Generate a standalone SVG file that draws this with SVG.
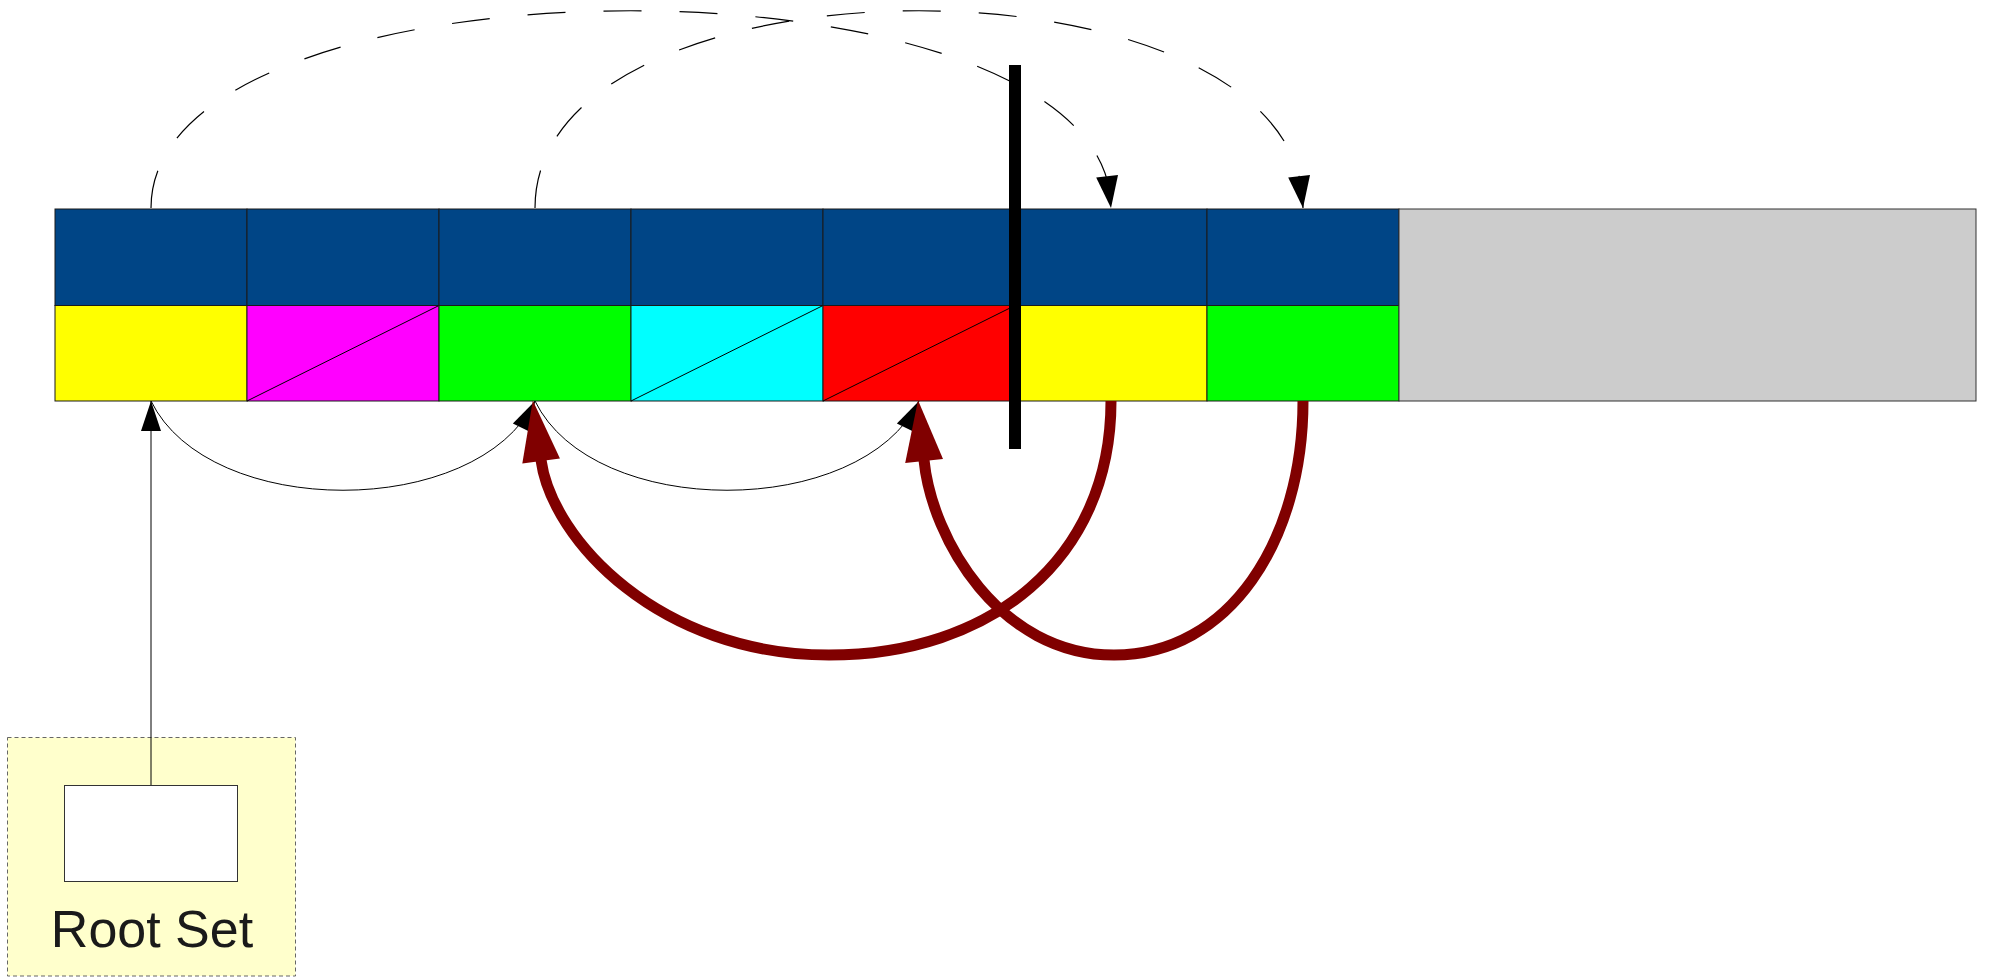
<svg xmlns="http://www.w3.org/2000/svg" width="1990" height="977" viewBox="0 0 1990 977">
<style>
.cell{stroke:#1a1a1a;stroke-width:1}
.top{fill:#004586}
.diag{stroke:#000;stroke-width:1;fill:none}
.thin{fill:none;stroke:#000;stroke-width:1}
.dash{fill:none;stroke:#000;stroke-width:1.2;stroke-dasharray:38 38}
.red{fill:none;stroke:#800000;stroke-width:11}
.lbl{font-family:"Liberation Sans",Arial,sans-serif;font-size:52px;fill:#1a1a1a}
</style>
<defs>
<marker id="mThin" markerUnits="userSpaceOnUse" markerWidth="40" markerHeight="40" refX="0" refY="0" orient="auto" overflow="visible">
<path d="M0,0 L-30,-10 L-30,10 Z" fill="#000"/>
</marker>
<marker id="mDash" markerUnits="userSpaceOnUse" markerWidth="40" markerHeight="40" refX="0" refY="0" orient="auto" overflow="visible">
<path transform="rotate(-7)" d="M0,0 L-32,-11 L-32,11 Z" fill="#000"/>
</marker>
<marker id="mRed" markerUnits="userSpaceOnUse" markerWidth="70" markerHeight="50" refX="0" refY="0" orient="auto" overflow="visible">
<path d="M-1,-19 L60,0 L-1,19 Z" fill="#800000"/>
</marker>
</defs>
<rect width="1990" height="977" fill="#fff"/>

<g id="rootset">
<rect x="7.5" y="737.5" width="288" height="238.5" fill="#ffffcc" stroke="#666" stroke-width="1" stroke-dasharray="4 3"/>
<text class="lbl" x="152" y="947" text-anchor="middle">Root Set</text>
</g>
<g id="root">
<rect x="64.5" y="785.5" width="173" height="96" fill="#fff" stroke="#333" stroke-width="1"/>
</g>

<g id="cell1">
<rect class="cell top" x="55" y="209" width="192" height="96.5"/>
<rect class="cell" x="55" y="305.5" width="192" height="95.5" fill="#ffff00"/>
</g>
<g id="cell2">
<rect class="cell top" x="247" y="209" width="192" height="96.5"/>
<rect class="cell" x="247" y="305.5" width="192" height="95.5" fill="#ff00ff"/>
<line class="diag" x1="247" y1="401" x2="439" y2="305.5"/>
</g>
<g id="cell3">
<rect class="cell top" x="439" y="209" width="192" height="96.5"/>
<rect class="cell" x="439" y="305.5" width="192" height="95.5" fill="#00ff00"/>
</g>
<g id="cell4">
<rect class="cell top" x="631" y="209" width="192" height="96.5"/>
<rect class="cell" x="631" y="305.5" width="192" height="95.5" fill="#00ffff"/>
<line class="diag" x1="631" y1="401" x2="823" y2="305.5"/>
</g>
<g id="cell5">
<rect class="cell top" x="823" y="209" width="192" height="96.5"/>
<rect class="cell" x="823" y="305.5" width="192" height="95.5" fill="#ff0000"/>
<line class="diag" x1="823" y1="401" x2="1015" y2="305.5"/>
</g>
<g id="cell6">
<rect class="cell top" x="1015" y="209" width="192" height="96.5"/>
<rect class="cell" x="1015" y="305.5" width="192" height="95.5" fill="#ffff00"/>
</g>
<g id="cell7">
<rect class="cell top" x="1207" y="209" width="192" height="96.5"/>
<rect class="cell" x="1207" y="305.5" width="192" height="95.5" fill="#00ff00"/>
</g>
<g id="free">
<rect x="1399" y="209" width="577" height="192" fill="#cccccc" stroke="#333" stroke-width="1"/>
</g>

<g id="connectors">
<path class="thin" d="M151,785 L151,401" marker-end="url(#mThin)"/>
<path class="thin" d="M151,401 C209,520 477,520 535,401" marker-end="url(#mThin)"/>
<path class="thin" d="M535,401 C593,520 861,520 919,401" marker-end="url(#mThin)"/>
<path class="dash" d="M151,208 C151,-55 1111,-55 1111,208" marker-end="url(#mDash)"/>
<path class="dash" d="M535,208 C535,-55 1303,-55 1303,208" marker-end="url(#mDash)"/>
<path class="red" d="M1111,401 C1111,560 990,655 829,655 C660,655 552,540 541,460" marker-end="url(#mRed)"/>
<path class="red" d="M1303,401 C1303,540 1230,655 1114,655 C1000,655 932,540 924,460" marker-end="url(#mRed)"/>
</g>

<g id="barrier">
<rect x="1009" y="65" width="12" height="384" fill="#000"/>
</g>
</svg>
